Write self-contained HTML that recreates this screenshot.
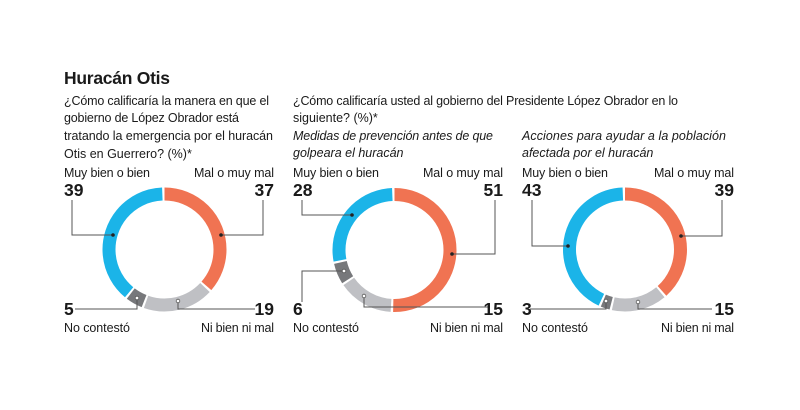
<!DOCTYPE html>
<html><head><meta charset="utf-8"><style>
body{margin:0;background:#fff;width:800px;height:405px;overflow:hidden}
text{font-family:"Liberation Sans",sans-serif;fill:#1a1a1a}
.q{font-size:12.5px}
.i{font-size:12.5px;font-style:italic}
.n{font-size:17.5px;font-weight:bold}
.l{font-size:12.5px}
</style></head><body>
<svg width="800" height="405" viewBox="0 0 800 405">
<text x="64" y="84" font-size="17.5" font-weight="bold" textLength="106">Huracán Otis</text>
<text class="q" x="64" y="105" textLength="205">¿Cómo calificaría la manera en que el</text>
<text class="q" x="64" y="122" textLength="175">gobierno de López Obrador está</text>
<text class="q" x="64" y="140" textLength="209">tratando la emergencia por el huracán</text>
<text class="q" x="64" y="158">Otis en Guerrero? (%)*</text>

<text class="q" x="293" y="105" textLength="385">¿Cómo calificaría usted al gobierno del Presidente López Obrador en lo</text>
<text class="q" x="293" y="122">siguiente? (%)*</text>
<text class="i" x="293" y="140" textLength="200">Medidas de prevención antes de que</text>
<text class="i" x="293" y="157">golpeara el huracán</text>
<text class="i" x="522" y="140" textLength="204">Acciones para ayudar a la población</text>
<text class="i" x="522" y="157">afectada por el huracán</text>

<g fill="none" stroke-width="13">
<g transform="translate(164.5,249.5)">
<circle r="55.5" pathLength="100" stroke="#f07352" stroke-dasharray="36.4 100" transform="rotate(-90)"/>
<circle r="55.5" pathLength="100" stroke="#bfc0c4" stroke-dasharray="18.4 100" transform="rotate(43.2)"/>
<circle r="55.5" pathLength="100" stroke="#77787b" stroke-dasharray="4.4 100" transform="rotate(111.6)"/>
<circle r="55.5" pathLength="100" stroke="#1bb4e8" stroke-dasharray="38.4 100" transform="rotate(129.6)"/>
</g>
<g transform="translate(394.5,250)">
<circle r="55.5" pathLength="100" stroke="#f07352" stroke-dasharray="50.4 100" transform="rotate(-90)"/>
<circle r="55.5" pathLength="100" stroke="#bfc0c4" stroke-dasharray="14.4 100" transform="rotate(93.6)"/>
<circle r="55.5" pathLength="100" stroke="#77787b" stroke-dasharray="5.4 100" transform="rotate(147.6)"/>
<circle r="55.5" pathLength="100" stroke="#1bb4e8" stroke-dasharray="27.4 100" transform="rotate(169.2)"/>
</g>
<g transform="translate(625,249.5)">
<circle r="55.5" pathLength="100" stroke="#f07352" stroke-dasharray="38.4 100" transform="rotate(-90)"/>
<circle r="55.5" pathLength="100" stroke="#bfc0c4" stroke-dasharray="14.4 100" transform="rotate(50.4)"/>
<circle r="55.5" pathLength="100" stroke="#77787b" stroke-dasharray="2.4 100" transform="rotate(104.4)"/>
<circle r="55.5" pathLength="100" stroke="#1bb4e8" stroke-dasharray="42.4 100" transform="rotate(115.2)"/>
</g>
</g>

<g fill="none" stroke="#555" stroke-width="1">
<polyline points="72,200 72,235 113,235"/>
<polyline points="263,200 263,235 221,235"/>
<polyline points="75,309 137,309 137,299"/>
<polyline points="255,309 178,309 178,302"/>
<polyline points="302,200 302,215 352,215"/>
<polyline points="495,200 495,254 452,254"/>
<polyline points="302,302 302,271 344,271"/>
<polyline points="490,307 364,307 364,297"/>
<polyline points="532,200 532,246 568,246"/>
<polyline points="722,200 722,236 681,236"/>
<polyline points="530,309 606,309 606,302"/>
<polyline points="712,309 638,309 638,303"/>
</g>
<g fill="#222">
<circle cx="113" cy="235" r="1.8"/><circle cx="221" cy="235" r="1.8"/>
<circle cx="352" cy="215" r="1.8"/><circle cx="452" cy="254" r="1.8"/>
<circle cx="568" cy="246" r="1.8"/><circle cx="681" cy="236" r="1.8"/>
</g>
<g fill="#fff" stroke="#555" stroke-width="0.8">
<circle cx="137" cy="298" r="1.8"/><circle cx="178" cy="301" r="1.8"/>
<circle cx="344" cy="271" r="1.8"/><circle cx="364" cy="296" r="1.8"/>
<circle cx="606" cy="301" r="1.8"/><circle cx="638" cy="302" r="1.8"/>
</g>

<text class="l" x="64" y="177" textLength="86">Muy bien o bien</text>
<text class="l" x="274" y="177" text-anchor="end" textLength="80">Mal o muy mal</text>
<text class="n" x="64" y="196">39</text>
<text class="n" x="274" y="196" text-anchor="end">37</text>
<text class="n" x="64" y="315">5</text>
<text class="n" x="274" y="315" text-anchor="end">19</text>
<text class="l" x="64" y="332" textLength="66">No contestó</text>
<text class="l" x="274" y="332" text-anchor="end" textLength="73">Ni bien ni mal</text>

<text class="l" x="293" y="177" textLength="86">Muy bien o bien</text>
<text class="l" x="503" y="177" text-anchor="end" textLength="80">Mal o muy mal</text>
<text class="n" x="293" y="196">28</text>
<text class="n" x="503" y="196" text-anchor="end">51</text>
<text class="n" x="293" y="315">6</text>
<text class="n" x="503" y="315" text-anchor="end">15</text>
<text class="l" x="293" y="332" textLength="66">No contestó</text>
<text class="l" x="503" y="332" text-anchor="end" textLength="73">Ni bien ni mal</text>

<text class="l" x="522" y="177" textLength="86">Muy bien o bien</text>
<text class="l" x="734" y="177" text-anchor="end" textLength="80">Mal o muy mal</text>
<text class="n" x="522" y="196">43</text>
<text class="n" x="734" y="196" text-anchor="end">39</text>
<text class="n" x="522" y="315">3</text>
<text class="n" x="734" y="315" text-anchor="end">15</text>
<text class="l" x="522" y="332" textLength="66">No contestó</text>
<text class="l" x="734" y="332" text-anchor="end" textLength="73">Ni bien ni mal</text>
</svg>
</body></html>
